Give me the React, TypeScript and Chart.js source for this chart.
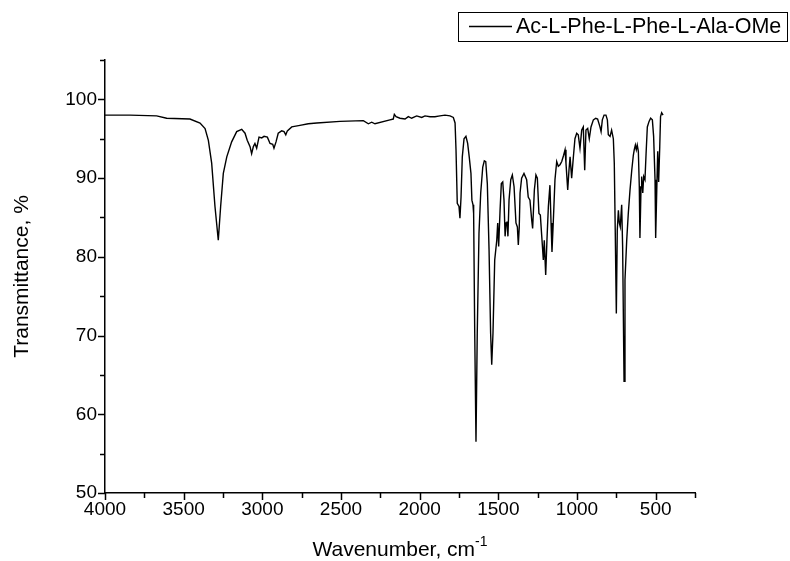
import React, { useEffect, useRef } from 'react';
import { Chart, registerables } from 'chart.js';

Chart.register(...registerables);

const SERIES_LABEL = 'Ac-L-Phe-L-Phe-L-Ala-OMe';

const WAVENUMBERS = [
  4000, 3841, 3672, 3608, 3460, 3396, 3364, 3343, 3322, 3301,
  3280, 3265, 3248, 3226, 3195, 3163, 3131, 3110, 3096, 3078,
  3068, 3057, 3047, 3036, 3021, 3004, 2989, 2968, 2951, 2934,
  2926, 2913, 2899, 2877, 2862, 2851, 2841, 2813, 2761, 2708,
  2654, 2506, 2358, 2326, 2305, 2284, 2189, 2168, 2161, 2150,
  2125, 2093, 2072, 2051, 2019, 1987, 1966, 1934, 1903, 1871,
  1839, 1807, 1786, 1775, 1769, 1761, 1750, 1744, 1737, 1729,
  1718, 1706, 1695, 1685, 1674, 1668, 1661, 1657, 1650, 1642,
  1634, 1623, 1612, 1599, 1589, 1580, 1570, 1559, 1549, 1542,
  1534, 1523, 1510, 1504, 1498, 1489, 1481, 1472, 1464, 1457,
  1451, 1445, 1439, 1432, 1421, 1411, 1400, 1388, 1379, 1373,
  1367, 1362, 1352, 1337, 1320, 1310, 1299, 1288, 1282, 1271,
  1261, 1252, 1242, 1233, 1224, 1214, 1208, 1199, 1191, 1182,
  1172, 1165, 1159, 1151, 1140, 1129, 1119, 1108, 1097, 1085,
  1076, 1070, 1059, 1051, 1044, 1034, 1023, 1013, 1002, 992,
  981, 970, 960, 951, 943, 932, 922, 911, 896, 881,
  869, 854, 847, 839, 828, 816, 807, 801, 790, 780,
  769, 763, 757, 750, 744, 737, 731, 725, 716, 710,
  701, 695, 684, 674, 663, 652, 642, 636, 629, 623,
  617, 610, 604, 600, 593, 589, 582, 576, 568, 561,
  553, 542, 532, 521, 513, 504, 500, 493, 487, 481,
  474, 469, 462, 453,
];

const TRANSMITTANCE = [
  98.0, 98.0, 97.9, 97.6, 97.5, 97.0, 96.3, 94.8, 91.9, 86.4,
  82.1, 86.4, 90.6, 92.7, 94.6, 95.9, 96.2, 95.7, 94.8, 94.0,
  93.1, 94.0, 94.4, 93.8, 95.2, 95.1, 95.3, 95.2, 94.4, 94.3,
  93.8, 94.6, 95.7, 96.0, 95.9, 95.5, 96.0, 96.5, 96.7, 96.9,
  97.0, 97.2, 97.3, 96.9, 97.1, 96.9, 97.4, 97.5, 98.1, 97.8,
  97.6, 97.5, 97.8, 97.6, 97.9, 97.7, 97.9, 97.8, 97.8, 97.9,
  98.0, 97.9, 97.7, 97.0, 93.6, 86.8, 86.4, 84.9, 87.6, 92.7,
  95.0, 95.3, 94.4, 92.7, 90.6, 87.2, 86.6, 85.5, 70.3, 56.5,
  70.3, 83.0, 88.1, 91.4, 92.2, 92.1, 89.3, 80.9, 70.3, 66.3,
  70.3, 79.6, 82.1, 84.3, 81.3, 85.9, 89.3, 89.5, 87.2, 82.6,
  84.3, 84.5, 82.6, 87.2, 89.8, 90.4, 88.9, 84.3, 83.8, 81.5,
  83.8, 88.1, 90.0, 90.6, 89.8, 87.6, 87.2, 84.7, 83.6, 88.5,
  90.4, 90.0, 85.5, 85.3, 82.6, 79.6, 82.1, 77.7, 82.1, 86.4,
  89.1, 84.3, 80.6, 84.3, 89.8, 92.1, 91.5, 91.7, 92.1, 92.9,
  93.6, 91.9, 88.5, 91.0, 92.7, 90.0, 92.7, 95.0, 95.7, 95.5,
  93.8, 96.1, 96.5, 91.0, 96.1, 96.3, 95.0, 96.5, 97.4, 97.6,
  97.5, 96.5, 95.9, 97.4, 98.0, 98.0, 97.4, 95.5, 95.3, 96.1,
  95.0, 91.9, 83.4, 72.8, 83.4, 85.9, 84.3, 83.8, 86.6, 81.3,
  64.2, 77.1, 82.1, 85.5, 88.5, 91.0, 92.9, 93.6, 94.2, 93.6,
  94.2, 93.4, 88.9, 82.4, 88.9, 90.2, 88.1, 90.2, 89.8, 93.1,
  96.5, 97.2, 97.6, 97.4, 95.3, 89.8, 82.4, 88.5, 93.4, 89.5,
  94.0, 97.8, 98.3, 98.0,
];

const X_MAJOR_TICKS = [4000, 3500, 3000, 2500, 2000, 1500, 1000, 500];
const X_MINOR_TICKS = [3750, 3250, 2750, 2250, 1750, 1250, 750, 250];
const Y_MAJOR_TICKS = [50, 60, 70, 80, 90, 100];
const Y_MINOR_TICKS = [55, 65, 75, 85, 95, 105];
const X_MIN = 250;
const X_MAX = 4000;
const Y_MIN = 50;
const Y_MAX = 105;

const X_TITLE = 'Wavenumber, cm';
const X_TITLE_SUP = '-1';
const Y_TITLE = 'Transmittance, %';

const FONT = '"Liberation Sans", Arial, sans-serif';

export default function App() {
  const ref = useRef<HTMLCanvasElement>(null);

  useEffect(() => {
    document.body.style.margin = '0';
    const canvas = ref.current;
    if (!canvas) return;

    const points = WAVENUMBERS.map((w, i) => ({ x: w, y: TRANSMITTANCE[i] }));

    const decor = {
      id: 'decor',
      afterDraw(chart: any) {
        const { ctx, chartArea: a, scales } = chart;
        const xs = scales.x;
        const ys = scales.y;
        ctx.save();
        ctx.strokeStyle = '#000';
        ctx.lineWidth = 1.5;
        ctx.beginPath();
        const xTick = (v: number, len: number) => {
          const p = Math.round(xs.getPixelForValue(v)) + 0.5;
          ctx.moveTo(p, a.bottom);
          ctx.lineTo(p, a.bottom + len);
        };
        const yTick = (v: number, len: number) => {
          const p = Math.round(ys.getPixelForValue(v)) + 0.5;
          ctx.moveTo(a.left, p);
          ctx.lineTo(a.left - len, p);
        };
        X_MAJOR_TICKS.forEach((v) => xTick(v, 7));
        X_MINOR_TICKS.forEach((v) => xTick(v, 5));
        Y_MAJOR_TICKS.forEach((v) => yTick(v, 7));
        Y_MINOR_TICKS.forEach((v) => yTick(v, 5));
        ctx.stroke();

        // axis titles
        ctx.fillStyle = '#000';
        const cx = (a.left + a.right) / 2;
        ctx.font = `21px ${FONT}`;
        const mainW = ctx.measureText(X_TITLE).width;
        ctx.font = `14px ${FONT}`;
        const supW = ctx.measureText(X_TITLE_SUP).width;
        const startX = cx - (mainW + supW) / 2;
        ctx.textAlign = 'left';
        ctx.textBaseline = 'alphabetic';
        ctx.font = `21px ${FONT}`;
        ctx.fillText(X_TITLE, startX, 556);
        ctx.font = `14px ${FONT}`;
        ctx.fillText(X_TITLE_SUP, startX + mainW, 546);

        ctx.save();
        ctx.translate(22, (a.top + a.bottom) / 2);
        ctx.rotate(-Math.PI / 2);
        ctx.font = `21px ${FONT}`;
        ctx.textAlign = 'center';
        ctx.textBaseline = 'middle';
        ctx.fillText(Y_TITLE, 0, 0);
        ctx.restore();

        // legend
        ctx.lineWidth = 1;
        ctx.strokeRect(458.5, 12.5, 329, 29);
        ctx.lineWidth = 1.3;
        ctx.beginPath();
        ctx.moveTo(469, 26.5);
        ctx.lineTo(512, 26.5);
        ctx.stroke();
        ctx.font = `21.5px ${FONT}`;
        ctx.textAlign = 'left';
        ctx.textBaseline = 'middle';
        ctx.fillText(chart.data.datasets[0].label, 516, 27);
        ctx.restore();
      },
    };

    const chart = new Chart(canvas, {
      type: 'line',
      data: {
        datasets: [
          {
            label: SERIES_LABEL,
            data: points,
            borderColor: '#000',
            borderWidth: 1.4,
            pointRadius: 0,
            tension: 0,
            fill: false,
          },
        ],
      },
      options: {
        animation: false,
        responsive: false,
        maintainAspectRatio: false,
        devicePixelRatio: 1,
        layout: { padding: { top: 60, right: 95, left: 0, bottom: 0 } },
        plugins: { legend: { display: false }, tooltip: { enabled: false } },
        scales: {
          x: {
            type: 'linear',
            reverse: true,
            min: X_MIN,
            max: X_MAX,
            afterBuildTicks: (s: any) => {
              s.ticks = X_MAJOR_TICKS.map((v) => ({ value: v }));
            },
            afterFit: (s: any) => {
              s.height = 68;
            },
            ticks: {
              autoSkip: false,
              maxRotation: 0,
              color: '#000',
              padding: 5,
              font: { family: FONT, size: 19 },
              callback: (v: any) => String(v),
            },
            grid: { display: true, drawOnChartArea: false, drawTicks: false },
            border: { display: true, color: '#000', width: 1.5 },
          },
          y: {
            min: Y_MIN,
            max: Y_MAX,
            afterBuildTicks: (s: any) => {
              s.ticks = Y_MAJOR_TICKS.map((v) => ({ value: v }));
            },
            afterFit: (s: any) => {
              s.width = 105;
            },
            ticks: {
              autoSkip: false,
              color: '#000',
              padding: 8,
              font: { family: FONT, size: 19 },
              callback: (v: any) => String(v),
            },
            grid: { display: true, drawOnChartArea: false, drawTicks: false },
            border: { display: true, color: '#000', width: 1.5 },
          },
        },
      },
      plugins: [decor],
    });

    return () => chart.destroy();
  }, []);

  return (
    <div style={{ position: 'absolute', left: 0, top: 0, width: 790, height: 561, background: '#fff' }}>
      <canvas ref={ref} width={790} height={561} style={{ display: 'block' }} />
    </div>
  );
}
